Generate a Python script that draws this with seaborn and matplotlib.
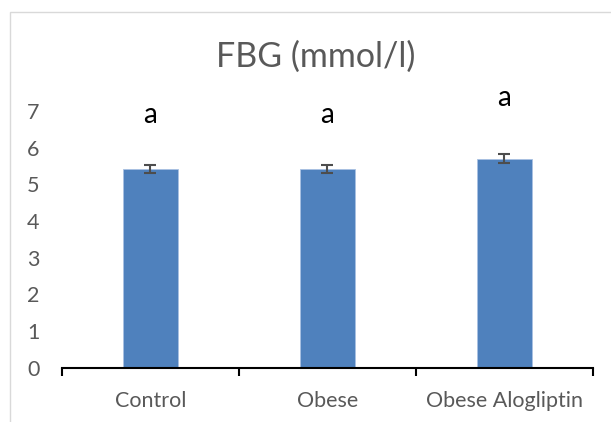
import matplotlib
matplotlib.use("Agg")
import matplotlib.pyplot as plt
import seaborn as sns
import pandas as pd
from matplotlib.patches import Rectangle

# ---- data ----
groups = ["Control", "Obese", "Obese Alogliptin"]
fbg_mean = [5.41, 5.41, 5.70]
fbg_err = [0.10, 0.10, 0.11]
sig_letters = ["a", "a", "a"]
letter_heights = [6.89, 6.89, 7.34]
y_ticks = [0, 1, 2, 3, 4, 5, 6, 7]
title_text = "FBG (mmol/l)"

sns.set_theme(style="white")
plt.rcParams["font.family"] = ["Lato", "DejaVu Sans"]

W, H = 611, 422
fig = plt.figure(figsize=(W / 100, H / 100), dpi=100)
fig.patch.set_facecolor("white")

# chart-area border (extends beyond right/bottom edge as in reference)
fig.patches.append(Rectangle((10 / W, -0.1), 1.2, (H - 11.7) / H + 0.1,
                             transform=fig.transFigure, fill=False,
                             edgecolor="#D9D9D9", linewidth=1.0, zorder=0))

ax = fig.add_axes([61.7 / W, (H - 367.7) / H, 531 / W, 256.9 / H])
df = pd.DataFrame({"group": groups, "fbg": fbg_mean})
sns.barplot(data=df, x="group", y="fbg", order=groups, color="#4F81BD",
            saturation=1, width=0.31, errorbar=None, ax=ax,
            edgecolor="#A9C1E2", linewidth=0.6, zorder=2)
ax.errorbar(x=range(len(groups)), y=fbg_mean, yerr=fbg_err, fmt="none",
            ecolor="#4D4D4D", elinewidth=1.5, capsize=4.5, capthick=1.5,
            zorder=3)

for i, (lab, h) in enumerate(zip(sig_letters, letter_heights)):
    ax.text(i, h, lab, ha="center", va="center", fontsize=20, color="black")

ax.set_xlim(-0.5, len(groups) - 0.5)
ax.set_ylim(0, 7)
ax.set_yticks(y_ticks)
ax.set_yticklabels([str(t) for t in y_ticks])
ax.set_xlabel("")
ax.set_ylabel("")

for s in ["top", "right", "left"]:
    ax.spines[s].set_visible(False)
ax.spines["bottom"].set_color("black")
ax.spines["bottom"].set_linewidth(1.5)

ax.tick_params(axis="y", length=0, pad=16, labelsize=15.5, labelcolor="#595959")
ax.tick_params(axis="x", which="major", length=0, pad=17, labelsize=15.5,
               labelcolor="#595959")
ax.set_xticks([-0.5, 0.5, 1.5, 2.5], minor=True)
ax.tick_params(axis="x", which="minor", length=5.5, width=1.5, color="black",
               direction="out", bottom=True)
ax.grid(False)
ax.set_facecolor("none")

fig.text(315.5 / W, 1 - 57 / H, title_text, ha="center", va="center",
         fontsize=24.5, color="#595959")

fig.savefig("out.png", dpi=100, facecolor="white")
